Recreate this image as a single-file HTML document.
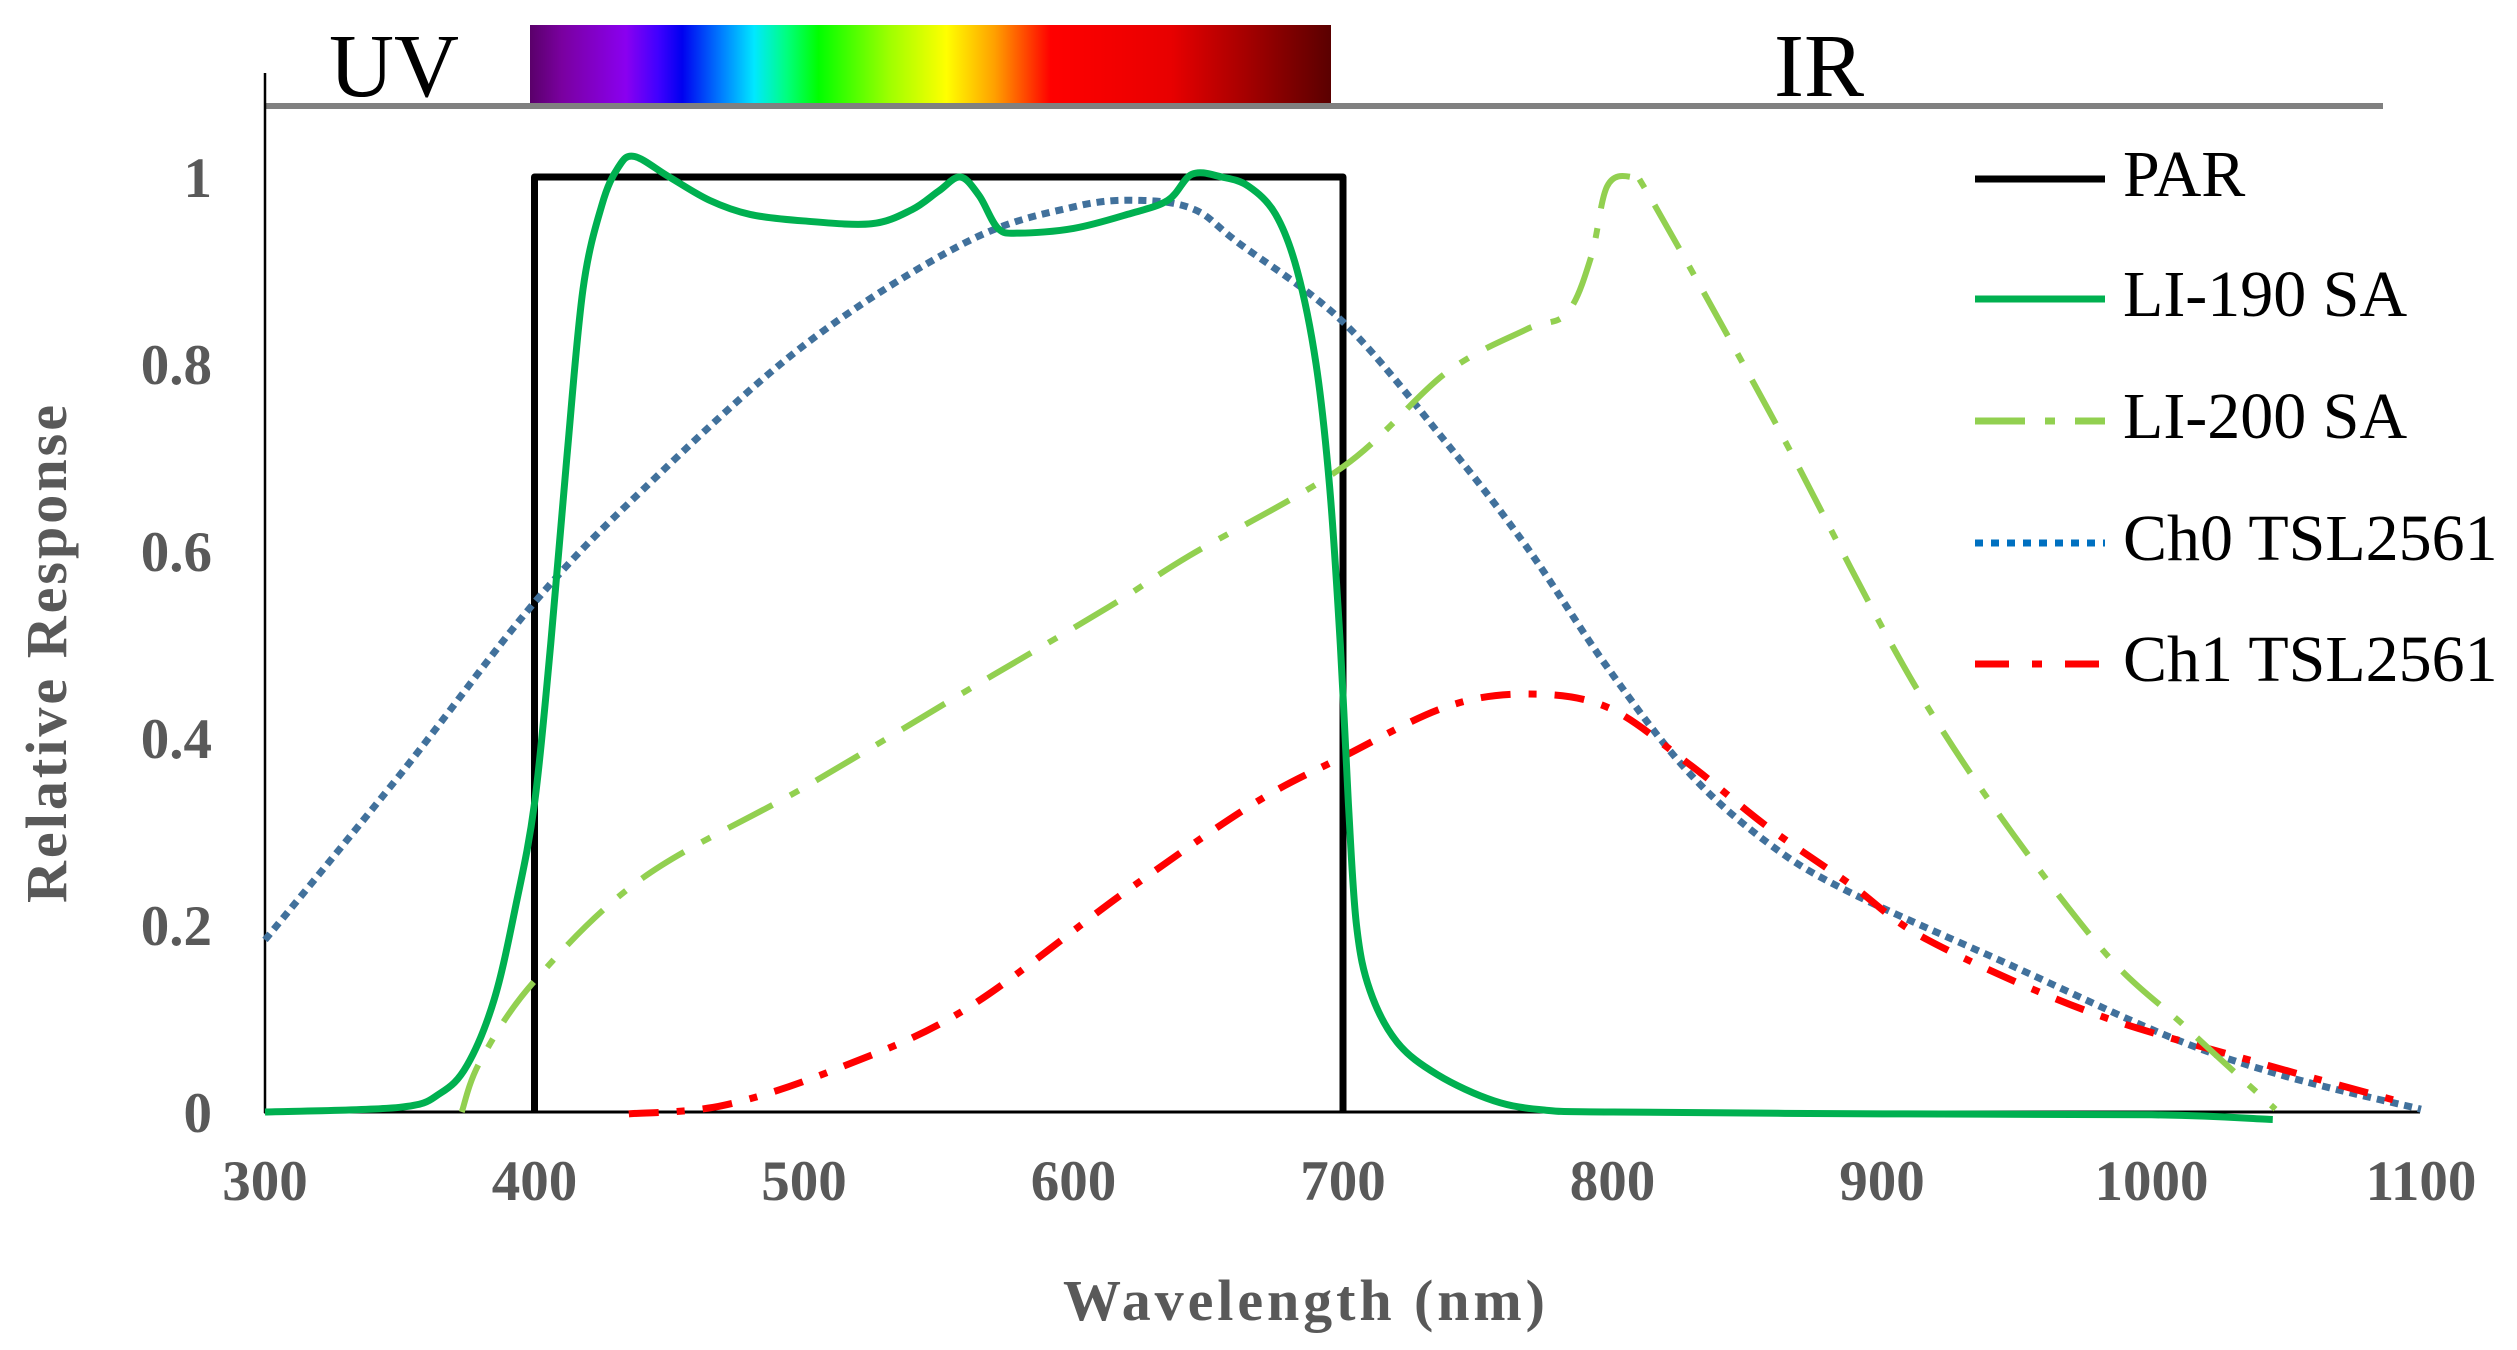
<!DOCTYPE html>
<html><head><meta charset="utf-8"><style>
html,body{margin:0;padding:0;background:#fff;}
svg{display:block;}
text{font-family:"Liberation Serif","Times New Roman",serif;}
</style></head><body>
<svg id="chart" width="2517" height="1350" viewBox="0 0 2517 1350" xmlns="http://www.w3.org/2000/svg">
<defs>
<linearGradient id="spec" x1="0" x2="1" y1="0" y2="0">
<stop offset="0" stop-color="#5a006a"/>
<stop offset="0.04" stop-color="#7a00a0"/>
<stop offset="0.12" stop-color="#8a00f0"/>
<stop offset="0.16" stop-color="#4000ff"/>
<stop offset="0.19" stop-color="#0000f0"/>
<stop offset="0.24" stop-color="#0080ff"/>
<stop offset="0.28" stop-color="#00e8ff"/>
<stop offset="0.32" stop-color="#00ff80"/>
<stop offset="0.36" stop-color="#00ff00"/>
<stop offset="0.45" stop-color="#a0ff00"/>
<stop offset="0.52" stop-color="#ffff00"/>
<stop offset="0.58" stop-color="#ffa000"/>
<stop offset="0.65" stop-color="#ff0000"/>
<stop offset="0.80" stop-color="#e80000"/>
<stop offset="1" stop-color="#5a0000"/>
</linearGradient>
</defs>
<rect x="530" y="25" width="801" height="80" fill="url(#spec)"/>
<line x1="265" y1="106" x2="2383" y2="106" stroke="#808080" stroke-width="6"/>
<text x="394" y="96" font-size="90" text-anchor="middle" fill="#000">UV</text>
<text x="1819" y="96" font-size="90" text-anchor="middle" fill="#000">IR</text>
<line x1="265" y1="73" x2="265" y2="1113" stroke="#000" stroke-width="2.5"/>
<line x1="264" y1="1112" x2="2420" y2="1112" stroke="#000" stroke-width="3"/>
<g id="xticks"></g><g id="yticks"></g><g id="series"></g>
<text x="1304" y="1320" font-size="58" font-weight="bold" fill="#595959" text-anchor="middle" textLength="482">Wavelength (nm)</text>
<text transform="translate(66,654) rotate(-90)" font-size="58" font-weight="bold" fill="#595959" text-anchor="middle" textLength="498">Relative Response</text>
<g id="legend"></g>
</svg>
<script>
const xTicks=[300,400,500,600,700,800,900,1000,1100];
const yTicks=[0,0.2,0.4,0.6,0.8,1];
const yTickLabels=["0","0.2","0.4","0.6","0.8","1"];
const parX=[400,400,700,700];
const parY=[0,1,1,0];
const li190X=[300,350,365,375,385,393,400,406,412,418,425,431,437,450,465,480,500,525,540,550,558,565,572,580,600,620,635,644,655,665,675,683,690,695,699,702,705,710,720,735,756,775,800,900,1000,1045];
const li190Y=[0,0.005,0.02,0.05,0.12,0.22,0.33,0.5,0.7,0.88,0.97,1.01,1.022,1.0,0.975,0.96,0.953,0.95,0.965,0.985,1.0,0.98,0.945,0.94,0.945,0.96,0.975,1.003,1.0,0.99,0.96,0.9,0.8,0.67,0.5,0.33,0.2,0.13,0.075,0.04,0.012,0.002,0,-0.002,-0.003,-0.008];
const li200X=[373,380,400,440,500,560,613,643,700,738,768,783,792,798,807,813,858,917,977,1013,1046];
const li200Y=[0,0.055,0.14,0.25,0.347,0.45,0.54,0.595,0.69,0.79,0.837,0.854,0.914,0.99,1.0,0.983,0.75,0.433,0.19,0.09,0.003];
const ch0X=[300,351,400,440,500,560,600,625,645,661,700,738,768,798,828,858,888,947,1007,1050,1100];
const ch0Y=[0.184,0.364,0.545,0.665,0.82,0.93,0.968,0.975,0.965,0.93,0.845,0.717,0.605,0.476,0.364,0.287,0.235,0.158,0.08,0.038,0.003];
const ch1X=[435,470,512,560,619,667,700,738,768,798,828,858,888,917,977,1037,1091];
const ch1Y=[-0.002,0.007,0.046,0.11,0.235,0.33,0.38,0.433,0.447,0.433,0.373,0.304,0.244,0.184,0.107,0.055,0.012];

const NS="http://www.w3.org/2000/svg";
const sx=v=>265+(v-300)*2.695;
const sy=v=>1112-v*935;
function mk(tag,attrs,parent){const e=document.createElementNS(NS,tag);for(const k in attrs)e.setAttribute(k,attrs[k]);parent.appendChild(e);return e;}
const xt=document.getElementById('xticks');
xTicks.forEach(t=>{const e=mk('text',{x:sx(t),y:1200,'font-size':57,'font-weight':'bold',fill:'#595959','text-anchor':'middle'},xt);e.textContent=t;

});
const yt=document.getElementById('yticks');
yTicks.forEach((t,i)=>{const e=mk('text',{x:212,y:sy(t)+20,'font-size':57,'font-weight':'bold',fill:'#595959','text-anchor':'end'},yt);e.textContent=yTickLabels[i];

});
function smooth(xs,ys){const p=xs.map((x,i)=>[sx(x),sy(ys[i])]);let d='M'+p[0][0]+','+p[0][1];
for(let i=0;i<p.length-1;i++){const p0=p[Math.max(0,i-1)],p1=p[i],p2=p[i+1],p3=p[Math.min(p.length-1,i+2)];
const c1=[p1[0]+(p2[0]-p0[0])/6,p1[1]+(p2[1]-p0[1])/6],c2=[p2[0]-(p3[0]-p1[0])/6,p2[1]-(p3[1]-p1[1])/6];
d+=' C'+c1[0]+','+c1[1]+' '+c2[0]+','+c2[1]+' '+p2[0]+','+p2[1];}return d;}
function poly(xs,ys){return 'M'+xs.map((x,i)=>sx(x)+','+sy(ys[i])).join(' L');}
const sg=document.getElementById('series');
const specs=[
 {n:'par-line',d:poly(parX,parY),c:'#000',w:7,da:''},
 {n:'ch0-tsl2561-line',d:smooth(ch0X,ch0Y),c:'#41719c',w:7,da:'8 6'},
 {n:'ch1-tsl2561-line',d:smooth(ch1X,ch1Y),c:'#ff0000',w:7,da:'30 18 8 18'},
 {n:'li200-sa-line',d:smooth(li200X,li200Y),c:'#92d050',w:6,da:'50 20 10 20'},
 {n:'li190-sa-line',d:smooth(li190X,li190Y),c:'#00b050',w:7,da:''}];
specs.forEach(s=>{const e=mk('path',{d:s.d,fill:'none',stroke:s.c,'stroke-width':s.w,'stroke-linejoin':'round'},sg);if(s.da)e.setAttribute('stroke-dasharray',s.da);

});
const lg=document.getElementById('legend');
const leg=[['PAR','#000','',196,'legend-par'],['LI-190 SA','#00b050','',316,'legend-li190'],['LI-200 SA','#92d050','50 20 10 20',438,'legend-li200'],['Ch0 TSL2561','#0070c0','8 8',560,'legend-ch0'],['Ch1 TSL2561','#ff0000','34 23 10 23',681,'legend-ch1']];
leg.forEach(l=>{const g=mk('g',{},lg);


const ln=mk('line',{x1:1975,x2:2105,y1:l[3]-17,y2:l[3]-17,stroke:l[1],'stroke-width':7},g);if(l[2])ln.setAttribute('stroke-dasharray',l[2]);
const t=mk('text',{x:2123,y:l[3],'font-size':66,fill:'#000'},g);t.textContent=l[0];});
</script>
</body></html>
